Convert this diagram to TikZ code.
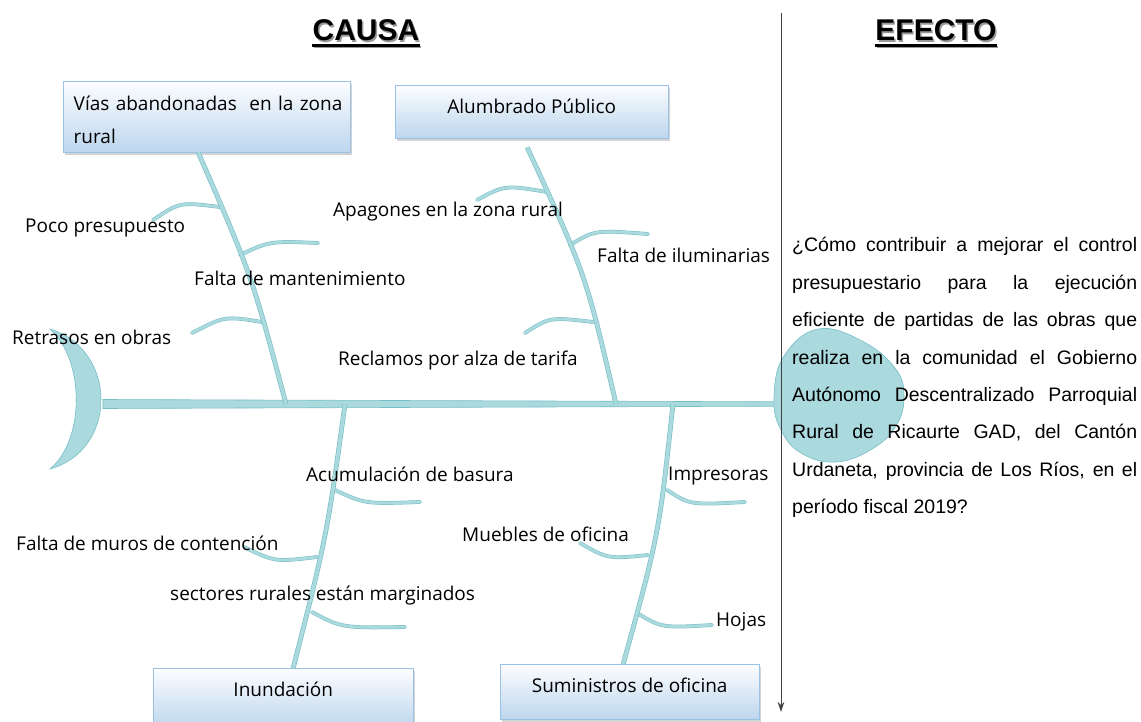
\documentclass[tikz,border=0pt]{standalone}
\usepackage{fontspec}
\setmainfont{Open Sans}
\newfontfamily\arialfont{Liberation Sans}
\usepackage{xcolor}
\usetikzlibrary{arrows.meta,shadows}
\definecolor{fishfill}{RGB}{170,217,222}
\definecolor{fishedge}{RGB}{118,190,198}
\definecolor{boxline}{RGB}{155,194,228}
\definecolor{boxtop}{RGB}{252,253,255}
\definecolor{boxbottom}{RGB}{189,214,238}
\tolerance=10000
\hbadness=10000

\begin{document}
\begin{tikzpicture}[x=1pt,y=-1pt]
\useasboundingbox (0,0) rectangle (1141,722);

\tikzset{fish/.style = {draw=fishedge,fill=fishfill,line width=0.6pt}}
\tikzset{bone/.style = {draw=fishedge,line width=0.6pt,double=fishfill,double distance=3.6pt}}
\tikzset{rib/.style = {draw=fishedge,line width=0.5pt,double=fishfill,double distance=2.8pt,line cap=round}}
\tikzset{box/.style = {draw=boxline,top color=boxtop,bottom color=boxbottom,drop shadow={shadow xshift=2pt,shadow yshift=-2.5pt,opacity=0.35},inner sep=0pt,anchor=north west,font=\fontsize{19}{33}\selectfont}}
\tikzset{cause/.style = {anchor=base west,inner sep=0pt,font=\fontsize{19}{23}\selectfont}}
\tikzset{heading/.style = {anchor=base,inner sep=0pt,font=\arialfont\bfseries\fontsize{30}{36}\selectfont}}
\tikzset{divider/.style = {draw=black!75,line width=0.9pt,-{Stealth[length=10pt,width=6.5pt]}}}

%titles
\node[heading,text=black!40] (causashadow) at (367.5,42.5) {CAUSA};
\draw[black!40,line width=2.4pt] ([yshift=-4.5pt]causashadow.base west) -- ([yshift=-4.5pt]causashadow.base east);
\node[heading] (causa) at (366,41) {CAUSA};
\draw[line width=2.4pt] ([yshift=-4.5pt]causa.base west) -- ([yshift=-4.5pt]causa.base east);
\node[heading,text=black!40] (efectoshadow) at (937.5,42.5) {EFECTO};
\draw[black!40,line width=2.4pt] ([yshift=-4.5pt]efectoshadow.base west) -- ([yshift=-4.5pt]efectoshadow.base east);
\node[heading] (efecto) at (936,41) {EFECTO};
\draw[line width=2.4pt] ([yshift=-4.5pt]efecto.base west) -- ([yshift=-4.5pt]efecto.base east);

%fish
\coordinate (tail) at (103,404);
\coordinate (head) at (775,404);
\filldraw[fish] (50,329) .. controls (118,350) and (118,450) .. (50,469) .. controls (85,440) and (85,360) .. (50,329) -- cycle;
\filldraw[fish] ([yshift=4.5pt]tail) -- ([yshift=2.2pt]head) -- ([yshift=-2.2pt]head) -- ([yshift=-4.5pt]tail) -- cycle;
\filldraw[fish] plot[smooth cycle,tension=0.7] coordinates {(818,329) (862,341) (895,368) (904,396) (896,426) (872,449) (836,462) (801,453) (780,428) (774,396) (784,356)};

%boxes
\node[box,text width=266pt,minimum width=287pt,align=left,text height=29pt,text depth=42pt] (vias) at (63,81) {\mbox{Vías abandonadas\ \ en la zona}\\rural};
\node[box,minimum width=273pt,text height=28pt,text depth=25pt] (alumbrado) at (395,85) {Alumbrado Público};
\node[box,minimum width=260pt,text height=28pt,text depth=32pt] (inundacion) at (153,668) {Inundación};
\node[box,minimum width=259pt,text height=28pt,text depth=27pt] (suministros) at (500,664) {Suministros de oficina};

%ribs
\coordinate (r1) at (220,207);  \coordinate (t1) at (153,220);
\coordinate (r2) at (240,255);  \coordinate (t2) at (318,243);
\coordinate (r3) at (262,322);  \coordinate (t3) at (192,333);
\coordinate (r4) at (547,192);  \coordinate (t4) at (477,200);
\coordinate (r5) at (570,245);  \coordinate (t5) at (648,234);
\coordinate (r6) at (593,322);  \coordinate (t6) at (525,333);
\coordinate (r7) at (335,490);  \coordinate (t7) at (420,502);
\coordinate (r8) at (317,557);  \coordinate (t8) at (244,547);
\coordinate (r9) at (312,612);  \coordinate (t9) at (405,627);
\coordinate (r10) at (667,490); \coordinate (t10) at (745,502);
\coordinate (r11) at (648,555); \coordinate (t11) at (580,543);
\coordinate (r12) at (637,613); \coordinate (t12) at (712,625);
\draw[rib] (r1) .. controls (180,202) .. (t1);
\draw[rib] (r2) .. controls (270,241) .. (t2);
\draw[rib] (r3) .. controls (225,316) .. (t3);
\draw[rib] (r4) .. controls (505,185) .. (t4);
\draw[rib] (r5) .. controls (595,230) .. (t5);
\draw[rib] (r6) .. controls (550,317) .. (t6);
\draw[rib] (r7) .. controls (365,504) .. (t7);
\draw[rib] (r8) .. controls (275,562) .. (t8);
\draw[rib] (r9) .. controls (342,628) .. (t9);
\draw[rib] (r10) .. controls (690,505) .. (t10);
\draw[rib] (r11) .. controls (608,559) .. (t11);
\draw[rib] (r12) .. controls (662,628) .. (t12);

%bones
\coordinate (j1) at (286,404);
\coordinate (j2) at (616,404);
\coordinate (j3) at (345,404);
\coordinate (j4) at (673,404);
\draw[bone] ([xshift=-8.5pt]vias.south) .. controls (252,276) .. (j1);
\draw[bone] ([xshift=-4.5pt,yshift=-9pt]alumbrado.south) .. controls (586,275) .. (j2);
\draw[bone] (j3) .. controls (327,535) .. ([xshift=10pt]inundacion.north);
\draw[bone] (j4) .. controls (659,534) .. ([xshift=-6.5pt]suministros.north);

%effect
\coordinate (dtop) at (781,13);
\coordinate (dend) at (781,712);
\draw[divider] (dtop) -- (dend);
\node[anchor=base west,inner sep=0pt,text width=345pt,align=justify,font=\arialfont\fontsize{19.5}{37.4}\selectfont] (pregunta) at (792,252) {¿Cómo contribuir a mejorar el control\linebreak presupuestario para la ejecución\linebreak eficiente de partidas de las obras que\linebreak realiza en la comunidad el Gobierno\linebreak Autónomo Descentralizado Parroquial\linebreak Rural de Ricaurte GAD, del Cantón\linebreak Urdaneta, provincia de Los Ríos, en el\linebreak período fiscal 2019?};

%causes
\node[cause] (poco) at (25,233) {Poco presupuesto};
\node[cause] (mant) at (194,286) {Falta de mantenimiento};
\node[cause] (retrasos) at (12,344) {Retrasos en obras};
\node[cause] (apagones) at (333,217) {Apagones en la zona rural};
\node[cause] (ilum) at (597,262) {Falta de iluminarias};
\node[cause] (reclamos) at (338,365) {Reclamos por alza de tarifa};
\node[cause] (basura) at (306,481) {Acumulación de basura};
\node[cause] (muros) at (16,550) {Falta de muros de contención};
\node[cause] (sectores) at (170,600) {sectores rurales están marginados};
\node[cause] (impresoras) at (668,480) {Impresoras};
\node[cause] (muebles) at (462,541) {Muebles de oficina};
\node[cause] (hojas) at (716,626) {Hojas};
\end{tikzpicture}
\end{document}
